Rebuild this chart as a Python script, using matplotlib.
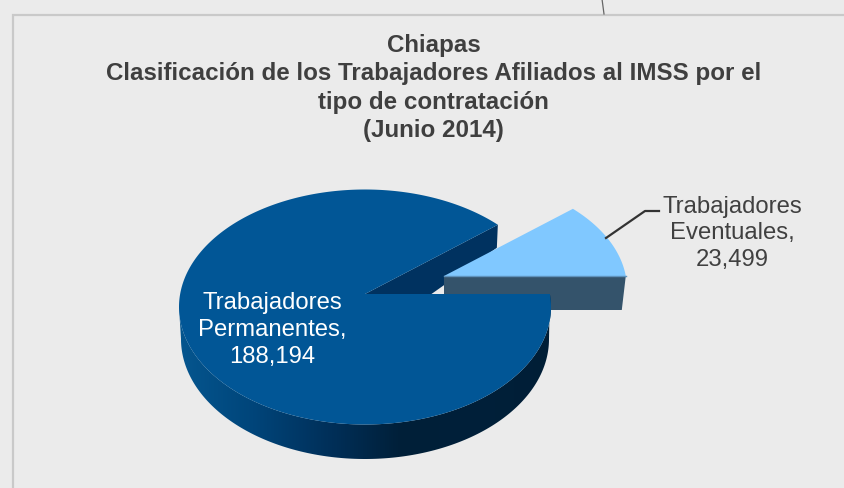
import numpy as np
import matplotlib
matplotlib.use('Agg')
import matplotlib.pyplot as plt
from matplotlib.colors import LinearSegmentedColormap
from matplotlib.patches import Polygon

categories = ['Trabajadores\nPermanentes,', 'Trabajadores\nEventuales,']
values = [188194, 23499]
tick_labels = ['188,194', '23,499']
title = ('Chiapas\nClasificación de los Trabajadores Afiliados al IMSS por el\n'
         'tipo de contratación\n(Junio 2014)')

plt.rcParams['font.family'] = ['Liberation Sans', 'DejaVu Sans']

W, H = 844, 489
BG = '#ebebeb'
fig = plt.figure(figsize=(W / 100, H / 100), dpi=100, facecolor=BG)
ax = fig.add_axes([0, 0, 1, 1])
ax.set_xlim(0, W)
ax.set_ylim(H, 0)
ax.axis('off')

# angle swept by the small slice, measured from the 3 o'clock position
sweep = 2 * np.pi * values[1] / sum(values)
TILT = 0.622


def rim(theta, apex, centre, rx, ry):
    # where a ray from the apex hits the ellipse: apex sits above the ellipse
    # centre because of the perspective
    dx, dy = np.cos(theta), -TILT * np.sin(theta)
    ox, oy = (apex[0] - centre[0]) / rx, (apex[1] - centre[1]) / ry
    a = (dx / rx) ** 2 + (dy / ry) ** 2
    b = 2 * (ox * dx / rx + oy * dy / ry)
    c = ox ** 2 + oy ** 2 - 1
    s = (-b + np.sqrt(b ** 2 - 4 * a * c)) / (2 * a)
    return apex[0] + s * dx, apex[1] + s * dy


def arc(start, end, centre, rx, ry):
    t = np.radians(np.linspace(start, end, 200))
    return np.column_stack([centre[0] + rx * np.cos(t), centre[1] - ry * np.sin(t)])


# frame and the stray connector above it
ax.plot([13, 13, W], [H, 15.5, 15.5], color='#c9c9c9', lw=1.6, solid_joinstyle='miter')
ax.plot([602, 604], [0, 15], color='#666666', lw=0.9)

# cut wall of the big slice, behind the small slice
apex = (365, 295)
centre = (365, 308)
ex, ey = rim(np.array(sweep), apex, centre, 186, 117.5)
ax.add_patch(Polygon([apex, (ex, ey), (ex - 1, ey + 23), (365, 342)], fc='#003260', ec='none', zorder=1.5))

# small slice, pulled out of the pie
th = np.linspace(0, sweep, 60)
x, y = rim(th, (444, 277), (444, 290), 183, 113)
ax.add_patch(Polygon([(444, 277), (x[0], 277), (x[0] - 4, 311), (444, 311)], fc='#34536b', ec='none', zorder=2))
ax.add_patch(Polygon(np.vstack([[444, 277], np.column_stack([x, y])]), fc='#80c8ff', ec='none', zorder=3))
ax.plot([444, x[0]], [277, 277], color='#5f93bd', lw=1, zorder=3)

# outer wall with the horizontal shading
wall = np.vstack([arc(180, 366.4, centre, 186, 117.5), arc(360, 180, (365, 340), 184, 120)])
shade = LinearSegmentedColormap.from_list('shade', ['#05568f', '#00457a', '#00305a', '#001f38', '#00203a', '#001e36'])
im = ax.imshow(np.linspace(0, 1, 256)[None, :], cmap=shade, extent=(178, 552, 465, 290),
               aspect='auto', zorder=5)
clip = Polygon(wall, fc='none', ec='none', zorder=5)
ax.add_patch(clip)
im.set_clip_path(clip)
ax.set_xlim(0, W)
ax.set_ylim(H, 0)

# top face of the big slice
th = np.linspace(sweep, 2 * np.pi, 400)
x, y = rim(th, apex, centre, 186, 117.5)
ax.add_patch(Polygon(np.vstack([[apex], np.column_stack([x, y])]), fc='#015696', ec='none', zorder=6))

# texts
ax.text(433.5, 88, title, ha='center', va='center', fontsize=17.4, fontweight='bold',
        color='#3f3f3f', linespacing=1.28, zorder=8)
ax.text(272, 330, categories[0] + '\n' + tick_labels[0], ha='center', va='center', fontsize=17.2,
        color='white', linespacing=1.27, zorder=8)
ax.text(732, 233.5, categories[1] + '\n' + tick_labels[1], ha='center', va='center', fontsize=17.2,
        color='#404040', linespacing=1.27, zorder=8)
ax.plot([606, 645, 659], [239, 212, 212], color='#333333', lw=1.6, zorder=7)

fig.savefig('out.png', dpi=100, facecolor=BG)
